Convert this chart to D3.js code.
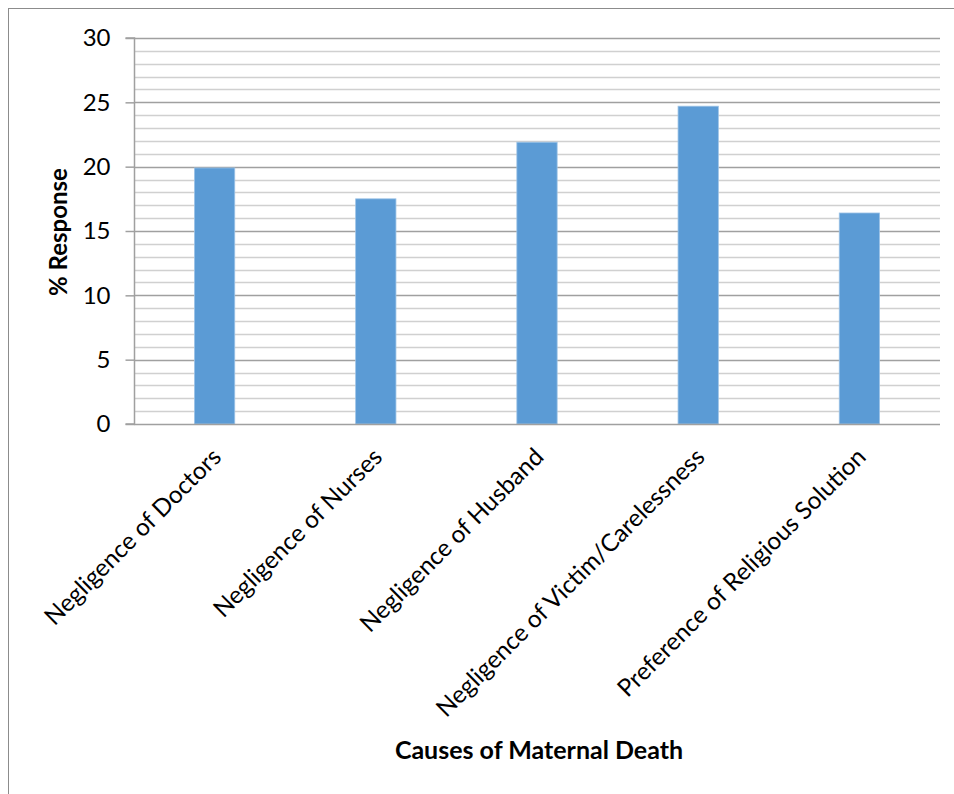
<!DOCTYPE html>
<html>
<head>
<meta charset="utf-8">
<script src="https://cdn.jsdelivr.net/npm/d3@7"></script>
<style>
  body { margin: 0; background: #fff; }
  svg { display: block; }
  text { font-family: Lato, "Open Sans", sans-serif; fill: #000; }
</style>
</head>
<body>
<svg id="chart" width="954" height="794"></svg>
<script>
const categories = [
  "Negligence of Doctors",
  "Negligence of Nurses",
  "Negligence of Husband",
  "Negligence of Victim/Carelessness",
  "Preference of Religious Solution"
];
const responses = [19.9, 17.5, 21.9, 24.7, 16.4];
const yTicks = [0, 5, 10, 15, 20, 25, 30];
const yMinorTicks = d3.range(0, 31, 1);
const xTitle = "Causes of Maternal Death";
const yTitle = "% Response";

const svg = d3.select("#chart");
const W = 954, H = 794;
const m = { left: 134, right: 14, top: 38, bottom: 370 };
const x0 = m.left, x1 = W - m.right, y0 = m.top, y1 = H - m.bottom;

// outer frame
svg.append("rect")
  .attr("x", 8.5).attr("y", 8.5).attr("width", W + 20).attr("height", H + 20)
  .attr("fill", "none").attr("stroke", "#8c8c8c").attr("stroke-width", 1);

const x = d3.scaleBand().domain(categories).range([x0, x1]).paddingInner(0.75).paddingOuter(0.375);
const y = d3.scaleLinear().domain([0, 30]).range([y1, y0]);

// minor gridlines
svg.append("g").selectAll("line").data(yMinorTicks.filter(d => d % 5 !== 0)).join("line")
  .attr("x1", x0).attr("x2", x1)
  .attr("y1", d => Math.round(y(d)) + 0.5).attr("y2", d => Math.round(y(d)) + 0.5)
  .attr("stroke", "#d0d0d0").attr("stroke-width", 1.5);

// major gridlines
svg.append("g").selectAll("line").data(yTicks.filter(d => d > 0)).join("line")
  .attr("x1", x0).attr("x2", x1)
  .attr("y1", d => Math.round(y(d)) + 0.5).attr("y2", d => Math.round(y(d)) + 0.5)
  .attr("stroke", "#a0a0a0").attr("stroke-width", 1.5);

// bars
svg.append("g").selectAll("rect").data(categories).join("rect")
  .attr("x", d => x(d))
  .attr("width", x.bandwidth())
  .attr("y", (d, i) => y(responses[i]))
  .attr("height", (d, i) => y(0) - y(responses[i]))
  .attr("fill", "#5b9bd5")
  .attr("stroke", "#9cc3e6").attr("stroke-width", 0.8);

// y axis
const yAxis = d3.axisLeft(y).tickValues(yTicks).tickSize(9).tickPadding(15).tickFormat(d3.format("d"));
const gy = svg.append("g").attr("transform", `translate(${x0 + 0.5},0)`).call(yAxis);
gy.select(".domain").attr("stroke", "#a0a0a0").attr("stroke-width", 1.5).attr("d", `M-9,${y1}H0V${y0}H-9`);
gy.selectAll(".tick line").attr("stroke", "#a0a0a0").attr("stroke-width", 1.5);
gy.selectAll(".tick text").attr("font-size", 24).attr("fill", "#222").style("font-family", "Lato, sans-serif");

// x axis baseline
const xAxis = d3.axisBottom(x).tickSize(0).tickPadding(0);
const gx = svg.append("g").attr("transform", `translate(0,${y1 + 0.5})`).call(xAxis);
gx.select(".domain").attr("stroke", "#a0a0a0").attr("stroke-width", 1.5).attr("d", `M${x0},0H${x1}`);
gx.selectAll(".tick text")
  .attr("font-size", 24.3)
  .attr("fill", "#111")
  .attr("text-anchor", "end")
  .attr("dy", 0)
  .attr("transform", "translate(8,34) rotate(-45)")
  .attr("y", 0).attr("x", 0)
  .style("font-family", "Lato, sans-serif");

// axis titles
svg.append("text")
  .attr("x", 539).attr("y", 759)
  .attr("text-anchor", "middle")
  .attr("font-size", 25).attr("font-weight", "bold")
  .text(xTitle);

svg.append("text")
  .attr("transform", "translate(67,232) rotate(-90)")
  .attr("text-anchor", "middle")
  .attr("font-size", 24).attr("font-weight", "bold")
  .text(yTitle);
</script>
</body>
</html>
